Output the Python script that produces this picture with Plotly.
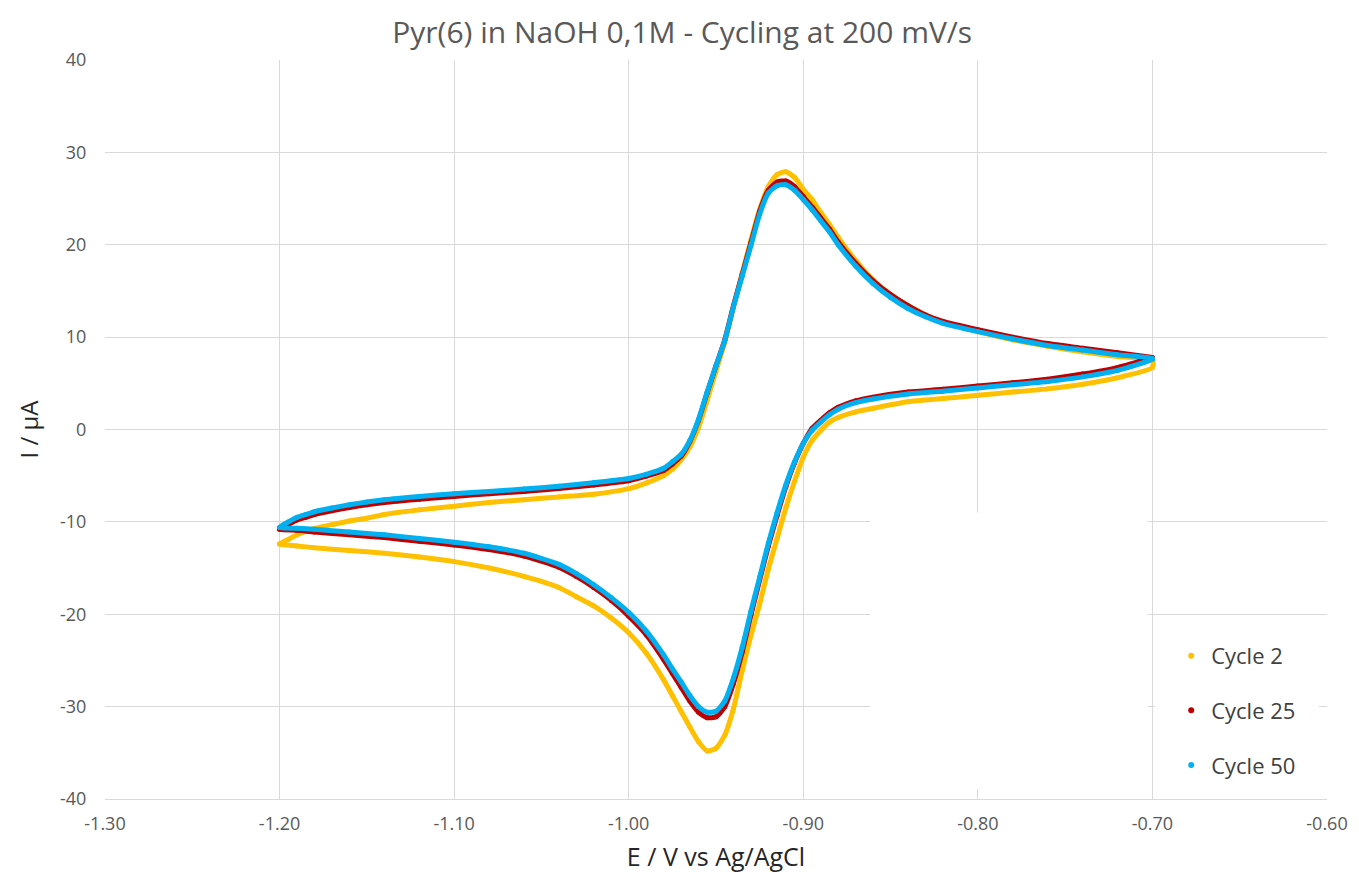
import plotly.graph_objects as go

# Potential grids (V vs Ag/AgCl) for the anodic sweep (-1.2 -> -0.7) and the cathodic sweep (-0.7 -> -1.2)
E_FWD = [-1.200, -1.195, -1.190, -1.185, -1.180, -1.170, -1.160, -1.150, -1.140, -1.120,
         -1.100, -1.080, -1.060, -1.040, -1.020, -1.000, -0.990, -0.980, -0.975, -0.970,
         -0.965, -0.960, -0.955, -0.950, -0.945, -0.940, -0.935, -0.930, -0.925, -0.920,
         -0.915, -0.910, -0.905, -0.900, -0.895, -0.890, -0.885, -0.880, -0.870, -0.860,
         -0.850, -0.840, -0.830, -0.820, -0.800, -0.780, -0.760, -0.740, -0.720, -0.700]

E_REV = [-0.700, -0.720, -0.740, -0.760, -0.780, -0.800, -0.820, -0.840, -0.860, -0.870,
         -0.880, -0.885, -0.890, -0.895, -0.900, -0.905, -0.910, -0.915, -0.920, -0.925,
         -0.930, -0.935, -0.940, -0.945, -0.950, -0.955, -0.960, -0.965, -0.970, -0.975,
         -0.980, -0.990, -1.000, -1.010, -1.020, -1.030, -1.040, -1.060, -1.080, -1.100,
         -1.120, -1.140, -1.160, -1.180, -1.190, -1.200]

# Current (µA), cycle 2
I2_FWD = [-12.4, -11.9, -11.4, -11.0, -10.7, -10.3, -9.9, -9.6, -9.2, -8.7,
          -8.3, -7.9, -7.6, -7.3, -7.0, -6.4, -5.8, -5.0, -4.3, -3.3,
          -1.9, 0.2, 3.2, 6.3, 9.4, 13.2, 16.9, 20.5, 23.8, 26.3,
          27.6, 27.9, 27.3, 26.0, 24.9, 23.5, 22.2, 20.8, 18.3, 16.2,
          14.6, 13.4, 12.4, 11.6, 10.6, 9.7, 9.0, 8.4, 7.9, 7.5]
I2_REV = [6.7, 5.6, 4.9, 4.4, 4.05, 3.7, 3.35, 3.0, 2.3, 1.9,
          1.3, 0.8, -0.1, -1.2, -3.0, -5.6, -8.5, -11.8, -15.1, -18.9,
          -22.3, -26.1, -30.2, -33.1, -34.5, -34.8, -33.8, -32.2, -30.5, -28.8,
          -27.1, -24.2, -22.0, -20.4, -19.1, -18.1, -17.1, -15.9, -15.0, -14.3,
          -13.8, -13.4, -13.1, -12.8, -12.6, -12.4]

# Current (µA), cycle 25
I25_FWD = [-10.8, -10.3, -9.8, -9.5, -9.2, -8.8, -8.45, -8.15, -7.9, -7.55,
           -7.25, -6.95, -6.7, -6.4, -6.0, -5.55, -5.05, -4.45, -3.75, -2.9,
           -1.3, 1.0, 4.0, 6.9, 9.7, 13.4, 16.8, 20.2, 23.6, 25.9,
           26.8, 26.9, 26.3, 25.2, 24.1, 22.9, 21.7, 20.3, 18.0, 16.1,
           14.6, 13.4, 12.4, 11.7, 10.8, 10.0, 9.3, 8.8, 8.3, 7.8]
I25_REV = [7.8, 6.7, 6.0, 5.45, 5.05, 4.7, 4.35, 4.05, 3.5, 3.1,
           2.4, 1.8, 1.0, 0.1, -1.5, -3.6, -6.2, -9.3, -12.6, -16.3,
           -20.1, -24.1, -27.5, -30.0, -31.1, -31.2, -30.6, -29.4, -27.9, -26.4,
           -24.9, -22.2, -20.2, -18.5, -17.1, -15.9, -14.9, -13.7, -13.0, -12.5,
           -12.1, -11.7, -11.4, -11.1, -10.9, -10.8]

# Current (µA), cycle 50
I50_FWD = [-10.6, -10.0, -9.5, -9.2, -8.9, -8.5, -8.15, -7.85, -7.6, -7.25,
           -6.95, -6.7, -6.45, -6.15, -5.75, -5.3, -4.85, -4.2, -3.5, -2.7,
           -1.2, 1.1, 4.1, 6.9, 9.6, 13.3, 16.6, 19.9, 23.3, 25.6,
           26.4, 26.5, 25.9, 24.9, 23.8, 22.6, 21.4, 20.0, 17.7, 15.8,
           14.3, 13.1, 12.2, 11.5, 10.6, 9.8, 9.1, 8.6, 8.1, 7.7]
I50_REV = [7.6, 6.4, 5.7, 5.2, 4.85, 4.5, 4.15, 3.85, 3.3, 2.9,
           2.2, 1.6, 0.8, -0.1, -1.5, -3.5, -6.0, -9.0, -12.3, -16.0,
           -19.7, -23.6, -26.9, -29.4, -30.5, -30.6, -30.0, -28.8, -27.3, -25.9,
           -24.4, -21.8, -19.8, -18.2, -16.8, -15.6, -14.6, -13.4, -12.7, -12.2,
           -11.8, -11.4, -11.1, -10.8, -10.7, -10.6]

CYCLE_NAMES = ["Cycle 2", "Cycle 25", "Cycle 50"]
CYCLE_COLORS = ["#FFC000", "#C00000", "#00B0F0"]
CYCLE_CURRENTS = [(I2_FWD, I2_REV), (I25_FWD, I25_REV), (I50_FWD, I50_REV)]

X_TICKS = [-1.30, -1.20, -1.10, -1.00, -0.90, -0.80, -0.70, -0.60]
X_TICK_TEXT = ["-1.30", "-1.20", "-1.10", "-1.00", "-0.90", "-0.80", "-0.70", "-0.60"]
Y_TICKS = [-40, -30, -20, -10, 0, 10, 20, 30, 40]
Y_TICK_TEXT = ["-40", "-30", "-20", "-10", "0", "10", "20", "30", "40"]

FONT = "Open Sans, sans-serif"
TICK_FONT = dict(family=FONT, size=18, color="#595959")
GRID = "#D9D9D9"

fig = go.Figure()

for name, color, (i_fwd, i_rev) in zip(CYCLE_NAMES, CYCLE_COLORS, CYCLE_CURRENTS):
    # full voltammogram loop: anodic sweep followed by the cathodic return
    fig.add_trace(go.Scatter(
        x=E_FWD + E_REV, y=i_fwd + i_rev,
        mode="lines+markers",
        line=dict(color=color, width=5, shape="spline", smoothing=0.6),
        marker=dict(color=color, size=5),
        name=name, showlegend=False, hoverinfo="skip",
    ))
    # legend entry shown as a single dot
    fig.add_trace(go.Scatter(
        x=[None], y=[None], mode="markers",
        marker=dict(color=color, size=6),
        name=name, legendgroup=name, showlegend=True,
    ))

# blank panels behind the legend area (over the gridlines, under the data)
fig.add_shape(type="rect", xref="x", yref="y", x0=-0.8617, x1=-0.7029, y0=-38.96, y1=-8.98,
              fillcolor="white", line=dict(width=0), layer="between")
fig.add_shape(type="rect", xref="x", yref="y", x0=-0.6983, x1=-0.6046, y0=-38.96, y1=-21.1,
              fillcolor="white", line=dict(width=0), layer="between")

fig.update_layout(
    width=1359, height=880,
    margin=dict(l=105, r=32, t=60, b=81),
    paper_bgcolor="white", plot_bgcolor="white",
    title=dict(text="Pyr(6) in NaOH 0,1M - Cycling at 200 mV/s",
               font=dict(family=FONT, size=30, color="#595959"),
               x=0.502, xref="container", xanchor="center", y=0.963, yanchor="middle"),
    legend=dict(x=0.8725, y=0.222, xanchor="left", yanchor="top",
                bgcolor="rgba(0,0,0,0)", tracegroupgap=23, itemwidth=30,
                font=dict(family=FONT, size=22, color="#404040")),
    showlegend=True,
)

fig.update_xaxes(
    range=[-1.30, -0.60], tickvals=X_TICKS, ticktext=X_TICK_TEXT,
    showgrid=True, gridcolor=GRID, gridwidth=1, zeroline=False,
    showline=True, linecolor=GRID, linewidth=1,
    ticks="outside", ticklen=8, tickcolor="rgba(0,0,0,0)",
    tickfont=TICK_FONT,
    title=dict(text="E / V vs Ag/AgCl", standoff=14,
               font=dict(family=FONT, size=25, color="#262626")),
)
fig.update_yaxes(
    range=[-40, 40], tickvals=Y_TICKS, ticktext=Y_TICK_TEXT,
    showgrid=True, gridcolor=GRID, gridwidth=1, zeroline=False,
    showline=False,
    ticks="outside", ticklen=14, tickcolor="rgba(0,0,0,0)",
    tickfont=TICK_FONT,
    title=dict(text="I / µA", standoff=14,
               font=dict(family=FONT, size=24, color="#262626")),
)

fig.write_html("out.html")
